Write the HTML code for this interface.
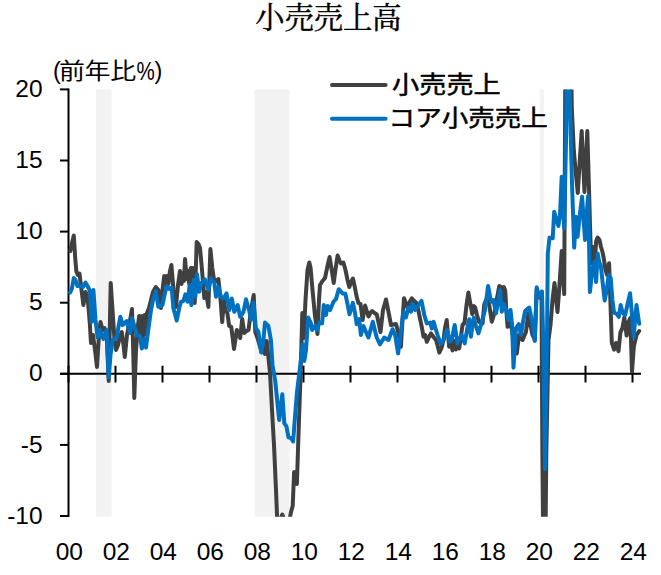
<!DOCTYPE html>
<html lang="ja"><head><meta charset="utf-8"><title>小売売上高</title>
<style>
html,body{margin:0;padding:0;background:#fff}
body{width:661px;height:575px;overflow:hidden}
svg{display:block}
.num{font-family:"Liberation Sans",sans-serif;font-size:24.5px;fill:#000}
.jp{font-family:"Liberation Sans","Noto Sans CJK JP",sans-serif;fill:#000}
.title{font-family:"Liberation Serif","Noto Serif CJK SC","Noto Sans CJK JP",serif;font-size:29.3px;fill:#000;stroke:#000;stroke-width:0.45px}
</style></head><body>
<svg width="661" height="575" viewBox="0 0 661 575">
<defs><clipPath id="plot"><rect x="60" y="89.4" width="590" height="427.4"/></clipPath></defs>
<rect width="661" height="575" fill="#fff"/>
<g fill="#f2f2f2">
<rect x="96" y="89.4" width="15.7" height="427.2"/>
<rect x="254.5" y="89.4" width="35" height="427.2"/>
<rect x="539.9" y="89.4" width="3.9" height="427.2"/>
</g>
<text class="title" x="328.4" y="28.1" text-anchor="middle">小売売上高</text>
<g stroke="#000" stroke-width="2" fill="none">
<line x1="68.5" x2="68.5" y1="88.4" y2="517"/>
<line x1="60" x2="641" y1="373.8" y2="373.8"/>
<line x1="60" x2="68.5" y1="516.0" y2="516.0"/><line x1="60" x2="68.5" y1="444.9" y2="444.9"/><line x1="60" x2="68.5" y1="373.8" y2="373.8"/><line x1="60" x2="68.5" y1="302.7" y2="302.7"/><line x1="60" x2="68.5" y1="231.6" y2="231.6"/><line x1="60" x2="68.5" y1="160.5" y2="160.5"/><line x1="60" x2="68.5" y1="89.4" y2="89.4"/>
<line x1="68.5" x2="68.5" y1="365.7" y2="382.5"/><line x1="115.5" x2="115.5" y1="365.7" y2="382.5"/><line x1="162.5" x2="162.5" y1="365.7" y2="382.5"/><line x1="209.5" x2="209.5" y1="365.7" y2="382.5"/><line x1="256.5" x2="256.5" y1="365.7" y2="382.5"/><line x1="303.5" x2="303.5" y1="365.7" y2="382.5"/><line x1="350.5" x2="350.5" y1="365.7" y2="382.5"/><line x1="397.5" x2="397.5" y1="365.7" y2="382.5"/><line x1="444.5" x2="444.5" y1="365.7" y2="382.5"/><line x1="491.5" x2="491.5" y1="365.7" y2="382.5"/><line x1="538.5" x2="538.5" y1="365.7" y2="382.5"/><line x1="585.5" x2="585.5" y1="365.7" y2="382.5"/><line x1="632.5" x2="632.5" y1="365.7" y2="382.5"/>
</g>
<g clip-path="url(#plot)" fill="none" stroke-width="4" stroke-linejoin="round" stroke-linecap="round">
<polyline stroke="#404040" points="70.3,251.0 72.0,243.0 73.8,235.5 75.2,258.0 76.3,271.0 77.8,275.0 79.5,273.5 81.5,290.0 83.4,305.0 85.5,292.0 87.5,296.0 89.7,322.0 91.0,343.0 93.0,335.0 95.0,350.0 97.0,367.0 99.0,335.0 100.5,322.0 102.5,330.0 104.5,328.0 106.7,335.0 108.7,381.0 110.7,283.0 112.5,310.0 114.5,340.0 116.0,350.0 118.0,345.0 120.0,336.0 121.8,332.0 123.5,345.0 124.8,357.0 127.0,335.0 129.0,325.0 130.5,318.0 132.0,309.0 133.2,350.0 134.3,398.0 136.0,350.0 138.0,325.0 139.2,316.0 140.5,336.0 141.8,316.0 143.2,338.0 144.6,315.0 145.9,334.0 147.0,313.0 149.0,308.0 151.0,300.0 153.0,292.0 155.8,287.0 158.3,290.0 160.9,308.0 162.5,290.0 164.2,276.0 165.6,284.0 167.0,276.0 168.4,284.0 169.8,272.0 171.4,265.0 173.5,290.0 175.9,307.0 178.0,285.0 180.0,271.0 181.5,284.0 183.0,273.0 184.0,281.0 185.0,259.0 186.8,279.0 188.0,271.0 189.2,284.0 190.8,268.0 192.6,268.0 194.7,303.0 196.7,242.0 198.5,244.0 200.0,248.0 202.0,270.0 204.3,298.0 206.0,292.0 208.4,307.0 210.4,249.0 212.3,268.0 214.3,282.0 216.5,281.0 218.4,279.0 220.6,300.0 222.2,322.0 223.9,300.0 225.6,311.0 227.4,313.0 229.1,325.7 231.3,327.0 234.0,349.0 236.8,330.0 238.5,333.0 240.2,338.0 242.2,319.0 244.3,333.0 246.5,331.0 248.5,330.0 251.0,310.0 253.7,295.0 255.3,332.0 257.5,338.0 259.5,345.0 261.5,352.0 263.5,350.0 265.0,354.0 266.7,341.0 268.5,358.0 270.0,373.0 272.0,410.0 274.0,445.0 276.0,490.0 277.2,520.0 280.0,520.0 282.3,514.5 284.5,520.0 289.5,520.0 291.0,512.0 292.7,506.0 294.1,472.0 296.9,484.0 298.3,440.0 300.3,383.0 301.3,350.0 302.3,313.0 303.8,338.0 305.5,300.0 307.5,270.0 309.3,262.5 310.6,268.0 312.5,290.0 315.0,316.0 317.5,334.0 319.0,300.0 320.0,285.0 322.5,281.0 325.0,278.0 327.5,266.0 329.6,257.0 331.7,270.0 333.7,283.0 335.7,268.0 337.6,255.5 339.3,260.0 340.9,263.5 343.4,262.5 345.5,270.0 347.5,280.0 349.3,287.0 351.0,282.0 352.9,278.5 355.0,288.0 356.5,296.0 358.4,303.0 360.5,304.0 362.6,320.0 365.1,305.5 366.8,311.0 368.5,316.5 370.3,313.0 372.1,311.0 374.5,313.0 376.8,314.5 378.6,323.0 380.5,332.0 383.0,310.0 386.0,299.5 388.5,312.0 391.0,325.0 393.5,324.5 396.0,324.0 398.5,333.5 400.9,346.8 402.5,320.0 404.0,298.3 405.8,303.0 407.6,307.5 409.7,302.0 411.8,298.3 414.3,301.0 416.8,303.4 418.5,311.0 420.0,318.5 421.8,327.0 423.5,336.7 425.2,335.0 426.8,341.8 429.0,337.0 431.0,333.4 433.5,337.0 436.0,340.0 437.7,346.0 439.3,352.6 441.5,348.0 443.5,340.0 445.0,328.0 446.7,320.0 448.0,335.0 449.2,346.8 450.8,340.0 452.5,350.5 454.2,341.0 455.8,349.5 457.5,341.0 459.2,348.5 461.0,336.0 462.5,325.0 464.5,323.0 466.5,305.0 468.4,292.5 469.7,300.0 470.9,306.7 472.3,314.0 473.7,306.0 475.0,307.0 477.0,315.0 479.0,322.0 482.6,323.4 484.2,305.0 486.0,300.0 488.0,297.0 490.0,310.0 491.8,321.7 494.3,313.4 497.0,298.0 499.3,286.0 500.8,287.0 502.3,301.0 503.8,287.0 505.3,291.0 506.3,310.0 507.6,326.8 510.0,322.0 512.0,330.0 514.0,345.0 516.8,353.5 519.0,335.0 520.5,338.0 522.6,340.0 525.9,332.0 528.5,313.0 530.5,325.0 532.5,335.0 534.8,340.0 536.7,289.0 538.5,295.0 540.2,298.0 541.5,295.0 542.4,453.4 544.4,656.8 546.3,453.4 548.5,340.0 550.5,325.0 552.5,300.0 554.5,283.0 556.0,298.0 557.5,312.0 559.5,285.0 561.7,251.0 563.0,275.0 564.2,294.0 565.9,-48.5 567.9,-379.9 569.8,-24.4 571.8,107.9 573.8,150.5 575.7,172.0 577.8,193.0 579.8,160.0 581.7,131.0 583.0,160.0 584.5,192.0 586.0,160.0 587.3,131.0 588.3,165.0 589.2,195.0 590.0,225.0 590.8,250.0 591.8,263.0 593.0,247.0 594.8,260.0 596.2,241.0 597.6,237.5 599.5,240.0 601.0,247.0 602.5,252.0 603.9,259.0 605.5,270.0 607.0,275.0 609.1,263.2 610.0,290.0 611.8,342.6 614.1,349.6 616.0,343.0 618.5,351.2 620.4,332.4 622.4,328.0 624.3,317.6 626.6,335.6 628.5,322.0 630.3,318.0 632.0,371.5 633.9,346.0 636.5,335.0 639.2,331.0"/>
<polyline stroke="#0070c0" points="70.0,292.5 71.8,289.0 73.8,278.0 75.5,280.0 77.5,286.0 79.0,285.0 80.9,286.8 83.0,287.0 85.4,282.6 87.5,286.0 90.0,291.0 91.7,322.0 93.4,290.0 95.5,320.0 97.6,337.6 100.0,330.0 101.7,335.0 103.4,339.0 105.0,334.0 106.7,330.0 108.7,377.6 110.5,355.0 112.6,340.0 114.7,339.0 116.8,337.6 118.6,326.0 120.4,316.7 122.6,325.0 124.7,323.0 126.8,321.0 128.5,328.0 130.1,333.0 132.1,318.0 134.3,326.0 136.8,335.0 140.1,336.0 141.8,348.4 144.3,339.0 146.0,347.6 148.5,328.0 151.0,310.0 153.0,300.0 155.8,291.0 158.3,306.8 160.5,306.0 162.5,305.0 164.5,295.0 166.7,286.0 169.2,289.0 171.7,287.6 173.4,308.5 175.0,314.0 176.7,320.5 178.8,310.0 180.9,301.8 183.4,301.0 185.4,294.3 187.6,301.8 189.7,285.0 191.4,305.0 193.7,280.0 195.4,296.8 197.0,274.2 199.2,291.8 201.8,282.6 204.8,279.3 206.5,284.0 208.4,290.0 210.9,278.4 214.3,282.6 216.0,296.8 218.4,286.8 221.0,296.8 223.5,298.5 226.5,293.4 229.3,310.0 231.8,298.5 234.3,311.8 237.6,305.0 240.2,316.8 243.5,311.8 246.0,299.3 249.5,312.0 250.9,320.0 253.5,302.5 255.9,328.4 258.4,331.7 261.2,352.6 263.4,340.0 265.0,322.6 268.4,326.0 270.9,340.0 272.5,365.0 275.3,381.7 279.2,420.0 282.3,394.2 284.3,423.4 286.4,426.2 288.5,437.3 291.0,438.0 293.1,441.5 295.0,417.0 296.9,392.8 300.3,365.0 302.6,344.3 304.3,361.0 306.0,350.0 308.1,317.5 311.0,323.4 312.1,330.0 315.1,325.9 317.1,330.0 319.3,322.5 322.1,323.4 323.8,305.0 326.0,315.0 327.6,305.9 330.1,310.0 333.5,301.7 336.0,299.2 338.7,289.2 342.6,293.4 345.4,293.8 347.5,304.0 349.5,314.3 352.9,302.8 355.0,313.0 356.7,324.2 359.2,319.2 360.9,335.0 363.4,326.0 366.0,332.0 368.4,337.5 370.5,330.0 372.8,321.7 374.8,330.0 376.7,337.5 380.0,344.3 384.2,337.6 388.4,340.0 392.6,329.2 395.1,335.0 398.1,353.4 400.9,331.7 403.4,311.7 405.9,317.5 408.4,307.5 411.0,311.7 412.3,303.4 415.1,310.0 418.5,305.0 421.5,300.9 424.3,315.0 426.8,323.4 430.2,322.6 431.8,328.4 433.5,321.7 436.0,330.0 438.5,338.0 441.0,344.0 443.5,340.0 447.0,330.0 450.0,341.8 451.7,339.3 454.7,325.0 457.5,343.4 461.7,335.0 464.7,343.4 467.0,330.0 469.2,319.2 470.9,336.8 473.7,317.6 476.0,326.0 478.4,333.4 480.9,325.0 485.0,310.0 488.1,285.9 491.0,301.7 493.4,300.0 496.0,313.4 498.0,302.0 500.1,290.0 501.8,311.7 503.5,303.4 506.0,309.2 508.5,320.0 510.5,310.0 512.1,325.0 513.5,367.7 516.0,328.4 518.8,324.2 521.0,335.0 523.0,322.0 525.2,310.9 527.3,309.0 529.3,307.6 532.7,325.0 534.8,341.0 536.7,287.3 538.5,294.0 540.2,296.8 542.0,291.5 543.2,340.0 545.0,469.0 547.0,340.0 547.8,253.6 549.5,237.6 551.0,238.0 552.7,238.3 554.2,211.7 556.0,218.0 558.4,226.0 560.0,215.0 561.7,176.7 563.0,205.0 564.2,228.4 566.2,132.1 568.2,-138.1 569.6,89.4 571.9,180.4 574.2,247.6 575.9,216.7 577.6,236.8 579.8,215.0 582.1,196.7 583.6,220.0 585.1,240.0 586.6,215.0 588.1,196.0 589.0,240.0 589.9,292.0 591.8,275.0 594.6,261.5 596.1,282.0 597.7,253.6 599.2,262.0 600.8,265.4 602.7,283.0 604.7,300.5 606.7,290.0 608.7,275.0 610.7,278.0 612.4,300.0 614.1,312.9 616.4,313.6 618.8,316.8 620.7,305.0 622.7,312.9 625.1,315.2 627.6,304.0 630.1,293.3 632.0,315.0 633.7,337.0 635.1,320.0 636.5,305.0 637.9,315.0 639.2,323.8"/>
</g>
<g class="num"><text x="42.6" y="523.6" text-anchor="end">-10</text><text x="42.6" y="452.5" text-anchor="end">-5</text><text x="42.6" y="381.4" text-anchor="end">0</text><text x="42.6" y="310.3" text-anchor="end">5</text><text x="42.6" y="239.2" text-anchor="end">10</text><text x="42.6" y="168.1" text-anchor="end">15</text><text x="42.6" y="97.0" text-anchor="end">20</text> <text x="69.3" y="560.2" text-anchor="middle">00</text><text x="116.3" y="560.2" text-anchor="middle">02</text><text x="163.3" y="560.2" text-anchor="middle">04</text><text x="210.3" y="560.2" text-anchor="middle">06</text><text x="257.3" y="560.2" text-anchor="middle">08</text><text x="304.3" y="560.2" text-anchor="middle">10</text><text x="351.3" y="560.2" text-anchor="middle">12</text><text x="398.3" y="560.2" text-anchor="middle">14</text><text x="445.3" y="560.2" text-anchor="middle">16</text><text x="492.3" y="560.2" text-anchor="middle">18</text><text x="539.3" y="560.2" text-anchor="middle">20</text><text x="586.3" y="560.2" text-anchor="middle">22</text><text x="633.3" y="560.2" text-anchor="middle">24</text></g>
<g class="jp"><text x="53" y="78.8" font-size="23.5">(</text><text transform="translate(59,79.2) scale(1,0.87)" font-size="26" letter-spacing="-0.4">前年比</text><text transform="translate(136.4,79.8) scale(0.79,1)" font-size="26">%</text><text x="154.6" y="78.8" font-size="23.5">)</text></g>
<g fill="none" stroke-width="4" stroke-linecap="round">
<line x1="332" x2="385.6" y1="85" y2="85" stroke="#404040"/>
<line x1="332" x2="385.6" y1="118.7" y2="118.7" stroke="#0070c0"/>
</g>
<text class="jp" transform="translate(392,93.1) scale(1,0.885)" font-size="27.2" stroke="#000" stroke-width="0.55">小売売上</text>
<text class="jp" transform="translate(388.6,125.9) scale(1,0.87)" font-size="26.55" stroke="#000" stroke-width="0.55">コア小売売上</text>
</svg>
</body></html>
